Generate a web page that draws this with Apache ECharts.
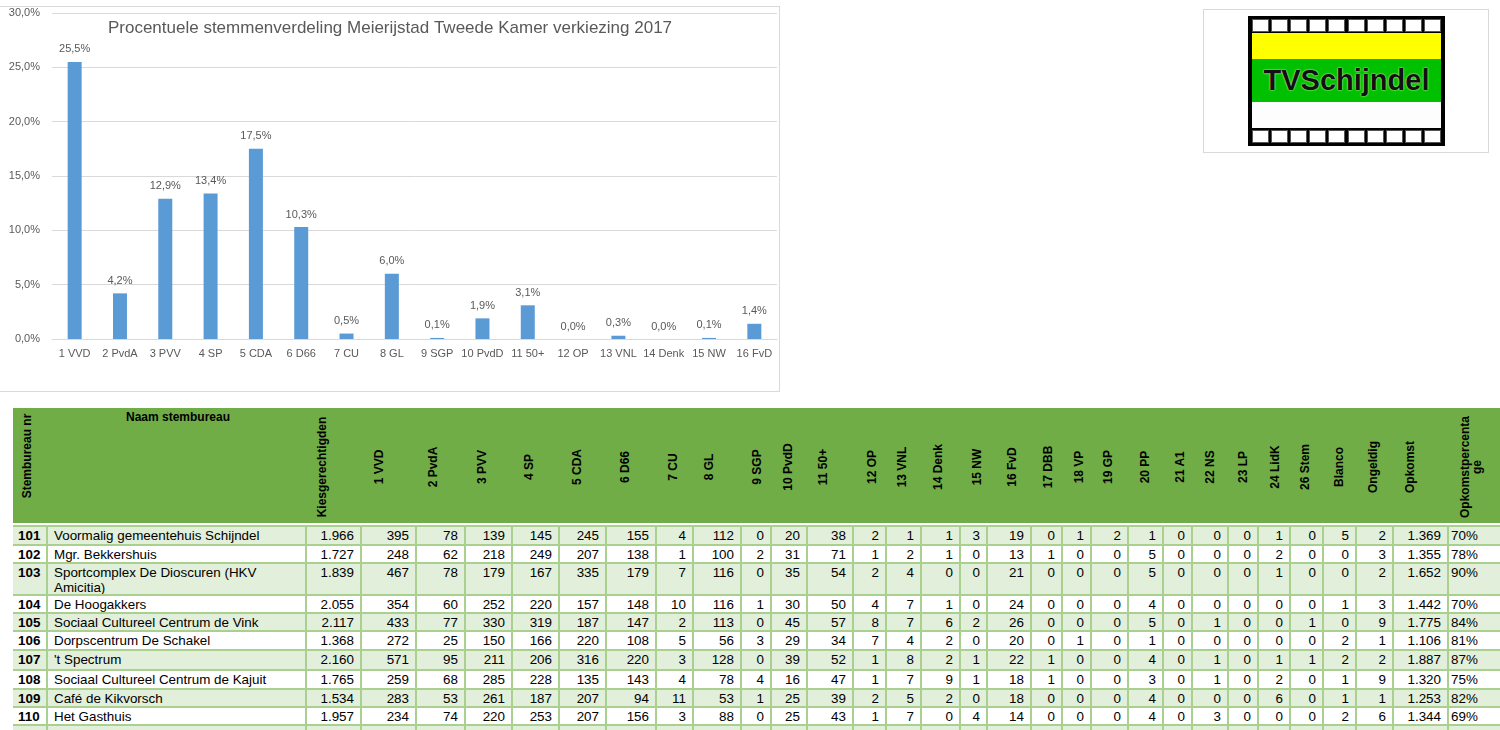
<!DOCTYPE html>
<html><head><meta charset="utf-8">
<script src="https://cdn.jsdelivr.net/npm/echarts@6/dist/echarts.min.js"></script>
<style>
body{margin:0;width:1500px;height:730px;overflow:hidden;background:#fff;font-family:'Liberation Sans',Arial,sans-serif;position:relative}
#frame{position:absolute;left:-20px;top:6px;width:800px;height:386px;border:1px solid #d9d9d9;box-sizing:border-box}
#chart{position:absolute;left:0;top:0;width:780px;height:392px}
#logoBox{position:absolute;left:1203px;top:9px;width:286px;height:144px;border:1px solid #d9d9d9;box-sizing:border-box}
#film{position:absolute;left:1248px;top:16px;width:197px;height:130px;background:#000}
.holes{position:absolute;left:4px;width:189px;height:13px;display:flex;justify-content:space-between}
.holes div{width:17px;height:13px;background:#fff;box-shadow:inset 0 0 0 1px #555}
.band{position:absolute;left:4px;width:189px}
#logoText{position:absolute;left:4px;width:189px;top:43px;height:43px;line-height:43px;text-align:center;font-weight:bold;font-size:29px;color:#111;text-shadow:0 0 2px #c8ff90,0 0 1px #c8ff90}
#header{position:absolute;left:13px;top:408px;width:1487px;height:115px;background:#70AD47}
.hl{position:absolute;white-space:nowrap;font-weight:bold;font-size:12px;color:#000;line-height:12px;text-align:center}
.cell{position:absolute;box-sizing:border-box;border-right:2px solid #A9D08E;border-bottom:2px solid #A9D08E;font-size:13.4px;line-height:15px;color:#000;overflow:hidden;padding-top:1px;white-space:pre-line}
</style></head>
<body>
<div id="frame"></div>
<div id="chart"></div>
<div id="logoBox"></div>
<div id="film">
  <div class="holes" style="top:3px"><div></div><div></div><div></div><div></div><div></div><div></div><div></div><div></div><div></div><div></div></div>
  <div class="band" style="top:17px;height:26px;background:#FFFF00"></div>
  <div class="band" style="top:43px;height:43px;background:#00C000"></div>
  <div class="band" style="top:86px;height:26px;background:#FDFDFD"></div>
  <div class="holes" style="top:114px"><div></div><div></div><div></div><div></div><div></div><div></div><div></div><div></div><div></div><div></div></div>
  <div id="logoText">TVSchijndel</div>
</div>
<div id="header"></div>
<div id="table"></div>
<script>
// ---- chart data ----
const parties = ['1 VVD','2 PvdA','3 PVV','4 SP','5 CDA','6 D66','7 CU','8 GL','9 SGP','10 PvdD','11 50+','12 OP','13 VNL','14 Denk','15 NW','16 FvD'];
const sharePct = [25.5,4.2,12.9,13.4,17.5,10.3,0.5,6.0,0.1,1.9,3.1,0.0,0.3,0.0,0.1,1.4];
const yMin = 0, yMax = 30, yStep = 5;
const chartTitle = 'Procentuele stemmenverdeling Meierijstad Tweede Kamer verkiezing 2017';

// ---- table data ----
const tableColumns = ['Kiesgerechtigden','1 VVD','2 PvdA','3 PVV','4 SP','5 CDA','6 D66','7 CU','8 GL','9 SGP','10 PvdD','11 50+','12 OP','13 VNL','14 Denk','15 NW','16 FvD','17 DBB','18 VP','19 GP','20 PP','21 A1','22 NS','23 LP','24 LidK','26 Stem','Blanco','Ongeldig','Opkomst','Opkomstpercentage'];
const stationNrs = [101,102,103,104,105,106,107,108,109,110];
const stationNames = ['Voormalig gemeentehuis Schijndel','Mgr. Bekkershuis','Sportcomplex De Dioscuren (HKV\nAmicitia)','De Hoogakkers','Sociaal Cultureel Centrum de Vink','Dorpscentrum De Schakel',"'t Spectrum",'Sociaal Cultureel Centrum de Kajuit','Café de Kikvorsch','Het Gasthuis'];
const kiesgerechtigden = [1966,1727,1839,2055,2117,1368,2160,1765,1534,1957];
const partyVotes = [
  [395,78,139,145,245,155,4,112,0,20,38,2,1,1,3,19,0,1,2,1,0,0,0,1,0],
  [248,62,218,249,207,138,1,100,2,31,71,1,2,1,0,13,1,0,0,5,0,0,0,2,0],
  [467,78,179,167,335,179,7,116,0,35,54,2,4,0,0,21,0,0,0,5,0,0,0,1,0],
  [354,60,252,220,157,148,10,116,1,30,50,4,7,1,0,24,0,0,0,4,0,0,0,0,0],
  [433,77,330,319,187,147,2,113,0,45,57,8,7,6,2,26,0,0,0,5,0,1,0,0,1],
  [272,25,150,166,220,108,5,56,3,29,34,7,4,2,0,20,0,1,0,1,0,0,0,0,0],
  [571,95,211,206,316,220,3,128,0,39,52,1,8,2,1,22,1,0,0,4,0,1,0,1,1],
  [259,68,285,228,135,143,4,78,4,16,47,1,7,9,1,18,1,0,0,3,0,1,0,2,0],
  [283,53,261,187,207,94,11,53,1,25,39,2,5,2,0,18,0,0,0,4,0,0,0,6,0],
  [234,74,220,253,207,156,3,88,0,25,43,1,7,0,4,14,0,0,0,4,0,3,0,0,0]
];
const blanco = [5,0,0,1,0,2,2,1,1,2];
const ongeldig = [2,3,2,3,9,1,2,9,1,6];
const opkomst = [1369,1355,1652,1442,1775,1106,1887,1320,1253,1344];
const opkomstPct = [70,78,90,70,84,81,87,75,82,69];

// ---- chart ----
const fmtPct = v => v.toFixed(1).replace('.', ',') + '%';
const chart = echarts.init(document.getElementById('chart'), null, {renderer:'canvas'});
chart.setOption({
  animation:false,
  title:{text:chartTitle,left:'center',top:20,padding:0,
    textStyle:{fontFamily:'Liberation Sans',fontSize:17,fontWeight:'normal',color:'#595959'}},
  grid:{left:52,right:3,top:13,bottom:53},
  xAxis:{type:'category',data:parties,
    axisLine:{lineStyle:{color:'#d9d9d9'}},axisTick:{show:false},
    axisLabel:{interval:0,color:'#595959',fontSize:11,margin:9,fontFamily:'Liberation Sans'}},
  yAxis:{type:'value',min:yMin,max:yMax,interval:yStep,
    axisLine:{show:false},axisTick:{show:false},
    splitLine:{lineStyle:{color:'#d9d9d9'}},
    axisLabel:{formatter:fmtPct,color:'#595959',fontSize:11,margin:12,fontFamily:'Liberation Sans'}},
  series:[{type:'bar',data:sharePct,barWidth:14,itemStyle:{color:'#5B9BD5'},
    label:{show:true,position:'top',distance:7,formatter:p=>fmtPct(p.value),color:'#595959',fontSize:11,fontFamily:'Liberation Sans'}}]
});

// ---- table layout ----
const colEdges = [13,48,307,362,417,466,513,560,607,657,694,742,772,808,854,887,922,961,988,1032,1063,1092,1129,1164,1193,1229,1259,1291,1324,1357,1394,1449,1502];
const rowEdges = [525,546,564,596,614,632,651,671,690,708,726,748];
const headerX = [27,178,322,379,433,482,529,577,625,673,709,757,788,823,872,902,938,977,1012,1048,1079,1108,1145,1180,1210,1243,1275,1305,1339,1373,1410,1471];
const headerY = 467;

const header = document.getElementById('header');
const headLabels = ['Stembureau nr','Naam stembureau'].concat(tableColumns);
headLabels.forEach((t,i)=>{
  const s = document.createElement('div');
  s.className = 'hl';
  const x = headerX[i] - 13;
  if (i === 1) {
    s.textContent = t;
    s.style.left = x + 'px'; s.style.top = (417-408) + 'px';
    s.style.transform = 'translate(-50%,-50%)';
  } else {
    if (t === 'Opkomstpercentage') { s.innerHTML = 'Opkomstpercenta<br>ge'; }
    else s.textContent = t;
    const y = (i === 0 ? 456 : headerY) - 408;
    s.style.left = x + 'px'; s.style.top = y + 'px';
    s.style.transform = 'translate(-50%,-50%) rotate(-90deg)';
  }
  header.appendChild(s);
});

const fmtThousands = n => n >= 1000 ? Math.floor(n/1000) + '.' + String(n%1000).padStart(3,'0') : String(n);
const table = document.getElementById('table');
function addCell(r, c, text, align, bold){
  const d = document.createElement('div');
  d.className = 'cell';
  const top = rowEdges[r], h = rowEdges[r+1]-rowEdges[r];
  d.style.left = colEdges[c] + 'px';
  d.style.top = top + 'px';
  d.style.width = (colEdges[c+1]-colEdges[c]) + 'px';
  d.style.height = h + 'px';
  d.style.background = (r % 2 === 0) ? '#E2EFDA' : '#FFFFFF';
  if (r === 0) { d.style.borderTop = '2px solid #A9D08E'; }
  d.style.textAlign = align;
  if (align === 'right') d.style.paddingRight = '6px';
  else d.style.paddingLeft = (c === 0 ? 5 : (c === 1 ? 6 : 2)) + 'px';
  if (bold) d.style.fontWeight = 'bold';
  d.textContent = text;
  table.appendChild(d);
}
const nCols = colEdges.length - 1;
for (let r = 0; r < stationNrs.length; r++) {
  const vals = [fmtThousands(kiesgerechtigden[r])]
    .concat(partyVotes[r].map(String))
    .concat([String(blanco[r]), String(ongeldig[r]), fmtThousands(opkomst[r]), opkomstPct[r] + '%']);
  addCell(r, 0, String(stationNrs[r]), 'left', true);
  addCell(r, 1, stationNames[r], 'left', false);
  vals.forEach((v,i)=>{
    const c = i + 2;
    addCell(r, c, v, c === nCols-1 ? 'left' : 'right', false);
  });
}
// partially visible next row
addCell(stationNrs.length, 0, '111', 'left', true);
for (let c = 1; c < nCols; c++) addCell(stationNrs.length, c, '', 'left', false);
</script>
</body></html>
